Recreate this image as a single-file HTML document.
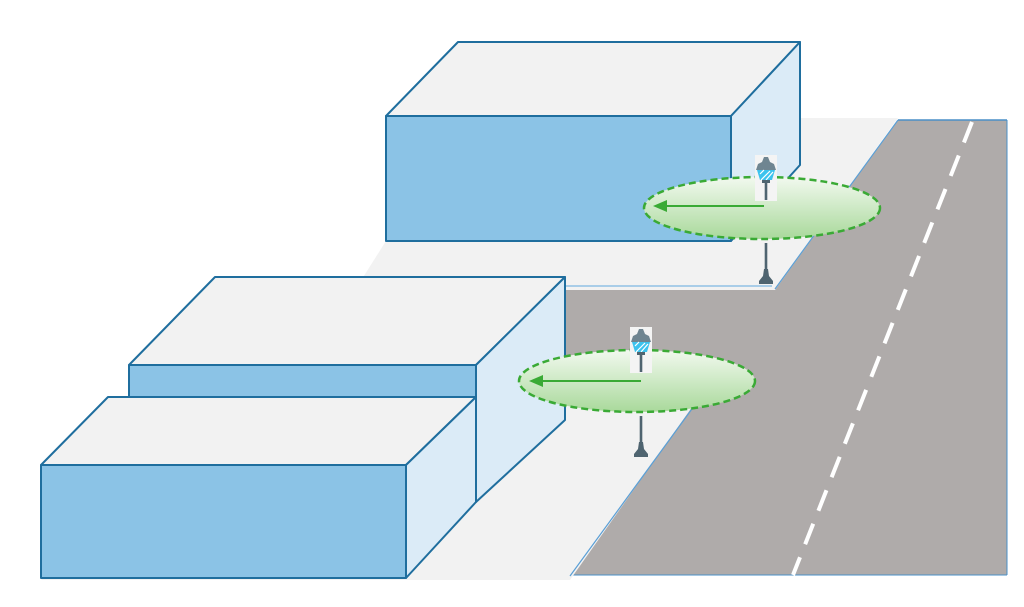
<!DOCTYPE html>
<html><head><meta charset="utf-8"><style>html,body{margin:0;padding:0;background:#fff}</style></head>
<body>
<svg width="1024" height="602" viewBox="0 0 1024 602" xmlns="http://www.w3.org/2000/svg">
<defs>
<linearGradient id="g" x1="0" y1="0" x2="0" y2="1">
<stop offset="0" stop-color="#f2f9ef"/><stop offset="1" stop-color="#a9d99b"/>
</linearGradient>
<g id="lamp">
<rect x="-11" y="0" width="22" height="46" fill="#f4f4f4"/>
<path d="M-2,2 L2,2 L4,7 L8,9 L10,15 L-10,15 L-8,9 L-4,7Z" fill="#6f8591"/>
<path d="M-9,15 L9,15 L6,25 L-6,25Z" fill="#3cc3ee"/>
<path d="M-6,19 L-2,15 M-5,25 L4,16 M0,25 L7,17" stroke="#fff" stroke-width="1.2"/>
<rect x="-4" y="25" width="8" height="3" fill="#4f6470"/>
<rect x="-1.3" y="27" width="2.6" height="18" fill="#4f6470"/>
</g>
<g id="base">
<rect x="-1.3" y="0" width="2.6" height="30" fill="#4f6470"/>
<path d="M-2,26 L2,26 L3,33 L7,38 L7,41 L-7,41 L-7,38 L-3,33Z" fill="#4f6470"/>
</g>
</defs>
<polygon points="565,290 775,290 898,120 1007,120 1007,575 570,575 697,400 565,400" fill="#afabaa"/>
<line x1="898" y1="120" x2="1007" y2="120" stroke="#4a8fc7" stroke-width="1.5"/>
<line x1="1007" y1="120" x2="1007" y2="575" stroke="#4a8fc7" stroke-width="1"/>
<line x1="570" y1="575" x2="1007" y2="575" stroke="#4a8fc7" stroke-width="1"/>
<line x1="972" y1="122" x2="793" y2="575" stroke="#fff" stroke-width="4" stroke-dasharray="22,14"/>
<polygon points="740,118 898,118 775,290 355,290 386,241" fill="#f2f2f2"/>
<line x1="898" y1="120" x2="775" y2="289" stroke="#5a9fd6" stroke-width="1.2"/>
<line x1="565" y1="286" x2="772" y2="286" stroke="#a9cde8" stroke-width="2"/>
<polygon points="355,290 565,290 565,400 697,400 570,580 41,580" fill="#f2f2f2"/>
<line x1="697" y1="402" x2="570" y2="576" stroke="#5a9fd6" stroke-width="1.2"/>
<g stroke="#1f6e9e" stroke-width="2" stroke-linejoin="round">
<polygon points="386,116 458,42 800,42 731,116" fill="#f2f2f2"/>
<polygon points="731,116 800,42 800,165 731,241" fill="#dbebf7"/>
<polygon points="386,116 731,116 731,241 386,241" fill="#8bc3e6"/>
</g>
<g stroke="#1f6e9e" stroke-width="2" stroke-linejoin="round">
<polygon points="129,365 215,277 565,277 476,365" fill="#f2f2f2"/>
<polygon points="476,365 565,277 565,420 476,502" fill="#dbebf7"/>
<polygon points="129,365 476,365 476,397 129,397" fill="#8bc3e6"/>
<polygon points="41,465 108,397 476,397 406,465" fill="#f2f2f2"/>
<polygon points="406,465 476,397 476,502 406,578" fill="#dbebf7"/>
<polygon points="41,465 406,465 406,578 41,578" fill="#8bc3e6"/>
</g>
<use href="#base" x="766" y="243"/>
<ellipse cx="762" cy="208" rx="118" ry="31" fill="url(#g)" stroke="#3aaa35" stroke-width="2.5" stroke-dasharray="7,4"/>
<use href="#lamp" x="766" y="155"/>
<line x1="764" y1="206" x2="665" y2="206" stroke="#3aaa35" stroke-width="2"/>
<polygon points="653,206 667,200 667,212" fill="#3aaa35"/>
<use href="#base" x="641" y="416"/>
<ellipse cx="637" cy="381" rx="118" ry="31" fill="url(#g)" stroke="#3aaa35" stroke-width="2.5" stroke-dasharray="7,4"/>
<use href="#lamp" x="641" y="327"/>
<line x1="641" y1="381" x2="542" y2="381" stroke="#3aaa35" stroke-width="2"/>
<polygon points="529,381 543,375 543,387" fill="#3aaa35"/>
</svg>
</body></html>
